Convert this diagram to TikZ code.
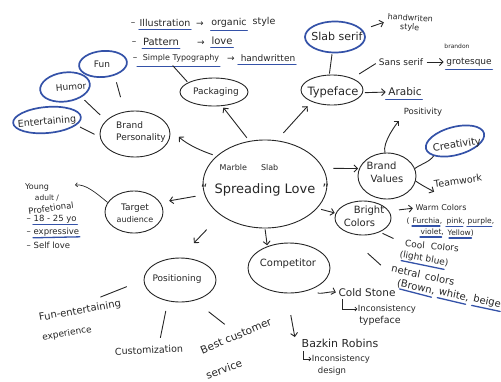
\documentclass[tikz,border=0pt]{standalone}
\usepackage{fontspec}
\setmainfont{DejaVu Sans}
\usetikzlibrary{shapes.geometric,arrows.meta}
\definecolor{ink}{RGB}{38,38,38}
\definecolor{inkblue}{RGB}{52,82,168}
\tikzset{
  fs/.style={font=\fontsize{#1}{#1}\selectfont},
  txt/.style={text=ink,inner sep=0.5pt,align=center},
  oval/.style={ellipse,draw=ink,line width=0.9pt,inner sep=0pt},
  boval/.style={ellipse,draw=inkblue,line width=1.7pt,inner sep=0pt},
  conn/.style={draw=ink,line width=0.9pt},
  arr/.style={conn,-{Straight Barb[length=3.5pt,width=7pt]}},
  arrS/.style={conn,line width=0.7pt,-{Straight Barb[length=2pt,width=4pt]}},
  ul/.style={draw=inkblue,line width=1.3pt,line cap=round},
}
\begin{document}
\begin{tikzpicture}[x=1pt,y=-1pt]
\useasboundingbox (0,0) rectangle (501,381);

% ---------- ovals ----------
\node[oval,minimum width=124pt,minimum height=88pt] (core) at (265,184) {};
\node[oval,minimum width=70pt,minimum height=46pt] (bp) at (135,134) {};
\node[boval,minimum width=48pt,minimum height=26pt,rotate=5] (fun) at (103,64) {};
\node[boval,minimum width=50pt,minimum height=29pt,rotate=8] (hum) at (65,87) {};
\node[boval,minimum width=68pt,minimum height=26pt,rotate=5] (ent) at (47,120) {};
\node[oval,minimum width=68pt,minimum height=28pt] (pack) at (214,92) {};
\node[oval,minimum width=62pt,minimum height=30pt] (typ) at (332,90) {};
\node[boval,minimum width=60pt,minimum height=31pt] (slab) at (335,37) {};
\node[oval,minimum width=58pt,minimum height=46pt] (bv) at (387,176) {};
\node[boval,minimum width=60pt,minimum height=28pt,rotate=15] (cre) at (455,141) {};
\node[oval,minimum width=56pt,minimum height=34pt] (bc) at (363,218) {};
\node[oval,minimum width=82pt,minimum height=50pt] (comp) at (289,268) {};
\node[oval,minimum width=72pt,minimum height=44pt] (posn) at (180,280) {};
\node[oval,minimum width=58pt,minimum height=42pt] (ta) at (134,212) {};

% ---------- labels inside ovals ----------
\node[txt,fs=8] (mslab) at (249,168) {Marble\hspace{14pt}Slab};
\node[txt,fs=13] (slogan) at (265,190) {“\hspace{7pt}Spreading Love\hspace{7pt}”};
\node[txt,fs=9,align=left] (bpL) at (141,132) {Brand\\[3pt]Personality};
\node[txt,fs=9] (funL) at (102,64) {Fun};
\node[txt,fs=9,rotate=5] (humL) at (71,87) {Humor};
\node[txt,fs=9.5,rotate=5] (entL) at (47,122) {Entertaining};
\node[txt,fs=9] (packL) at (216,92) {Packaging};
\node[txt,fs=11.5] (typL) at (333,92) {Typeface};
\node[txt,fs=11] (slabL) at (337,36) {Slab serif};
\node[txt,fs=10,align=left] (bvL) at (385,172) {Brand\\[3pt]\hspace{4pt}Values};
\node[txt,fs=10,rotate=8] (creL) at (457,145) {Creativity};
\node[txt,fs=10,align=left] (bcL) at (364,216) {\hspace{10pt}Bright\\[3pt]Colors};
\node[txt,fs=10] (compL) at (288,264) {Competitor};
\node[txt,fs=9] (posnL) at (177,279) {Positioning};
\node[txt,fs=9] (taL) at (135,213) {Target\\[3pt]{\fontsize{8}{8}\selectfont audience}};

% ---------- packaging list ----------
\node[txt,fs=9] (d1) at (133,24) {–};
\node[txt,fs=9.5] (ill) at (165,23) {Illustration};
\node[txt,fs=9] (a1) at (200,24) {→};
\node[txt,fs=9.5] (org) at (229,23) {organic};
\node[txt,fs=9.5] (sty) at (264,22) {style};
\node[txt,fs=9] (d2) at (134,43) {–};
\node[txt,fs=10] (pat) at (161,42) {Pattern};
\node[txt,fs=9] (a2) at (201,43) {→};
\node[txt,fs=10] (lov) at (222,41) {love};
\node[txt,fs=9] (d3) at (135,59) {–};
\node[txt,fs=8] (st) at (181,58) {Simple Typography};
\node[txt,fs=9] (a3) at (231,59) {→};
\node[txt,fs=9] (hwr) at (268,58) {handwritten};
\draw[ul] ([yshift=-2pt]ill.south west) -- ([yshift=-2pt]ill.south east);
\draw[ul] ([yshift=-2pt]org.south west) -- ([yshift=-2pt]org.south east);
\draw[ul] ([yshift=-2pt]pat.south west) -- ([yshift=-2pt]pat.south east);
\draw[ul] ([yshift=-2pt]lov.south west) -- ([yshift=-2pt]lov.south east);
\draw[ul] ([xshift=-5pt,yshift=-4pt]st.south west) -- ([yshift=-4pt]st.south east);
\draw[ul] ([xshift=-2pt,yshift=-2pt]hwr.south west) -- ([yshift=-2pt]hwr.south east);

% ---------- typeface branch ----------
\node[txt,fs=8,rotate=-4] (hw) at (410,23) {handwriten\\[1pt]style};
\node[txt,fs=9] (ss) at (401,62) {Sans serif};
\node[txt,fs=6] (bran) at (457,46) {brandon};
\node[txt,fs=9] (grot) at (469,62) {grotesque};
\node[txt,fs=10.5] (ar) at (405,92) {Arabic};
\draw[ul] ([yshift=-3pt]grot.south west) -- ([yshift=-3pt]grot.south east);
\draw[ul] ([xshift=-2pt,yshift=-3pt]ar.south west) -- ([yshift=-3pt]ar.south east);

% ---------- brand values ----------
\node[txt,fs=8.5] (pos) at (423,112) {Positivity};
\node[txt,fs=9.5,rotate=8] (tw) at (458,181) {Teamwork};

% ---------- bright colors ----------
\node[txt,fs=8] (wc) at (441,208) {Warm Colors};
\node[txt,fs=7.5,anchor=west] (par) at (406,221) {(};
\node[txt,fs=7.5,anchor=west] (fuc) at (412,221) {Furchia,};
\node[txt,fs=7.5,anchor=west] (pnk) at (446,221) {pink,};
\node[txt,fs=7.5,anchor=west] (pur) at (467,221) {purple,};
\node[txt,fs=7.5,anchor=west] (vio) at (420,232) {violet,};
\node[txt,fs=7.5,anchor=west] (yel) at (447,233) {Yellow)};
\draw[ul] ([yshift=-1pt]fuc.south west) -- ([xshift=-3pt,yshift=-1pt]fuc.south east);
\draw[ul] ([yshift=-1pt]pnk.south west) -- ([xshift=-3pt,yshift=-1pt]pnk.south east);
\draw[ul] ([yshift=-1pt]pur.south west) -- ([xshift=-3pt,yshift=-1pt]pur.south east);
\draw[ul] ([yshift=-1pt]vio.south west) -- ([xshift=-3pt,yshift=-1pt]vio.south east);
\draw[ul] ([xshift=2pt,yshift=-1pt]yel.south west) -- ([xshift=-3pt,yshift=-1pt]yel.south east);
\node[txt,fs=9,rotate=-5] (cool) at (432,246) {Cool\hspace{6pt}Colors};
\node[txt,fs=9,rotate=-10] (lb) at (424,259) {(light blue)};
\draw[ul] ([xshift=3pt,yshift=-1pt]lb.south west) -- ([xshift=-4pt,yshift=-1pt]lb.south east);
\node[txt,fs=10,rotate=-12] (net) at (423,275) {netral\hspace{5pt}colors};
\node[txt,fs=10,rotate=-12] (brw) at (416,287) {(Brown,};
\node[txt,fs=10,rotate=-12] (wht) at (454,295) {white,};
\node[txt,fs=10,rotate=-12] (bge) at (487,302) {beige};
\draw[ul] ([xshift=4pt,yshift=-1pt]brw.south west) -- ([xshift=-3pt,yshift=-1pt]brw.south east);
\draw[ul] ([yshift=-1pt]wht.south west) -- ([xshift=-3pt,yshift=-1pt]wht.south east);
\draw[ul] ([yshift=-1pt]bge.south west) -- ([yshift=-1pt]bge.south east);

% ---------- competitor ----------
\node[txt,fs=10.5] (cs) at (367,293) {Cold Stone};
\node[txt,fs=8.5] (inc1) at (387,309) {Inconsistency};
\node[txt,fs=9.5] (tf) at (380,321) {typeface};
\node[txt,fs=11] (bk) at (340,343) {Bazkin Robins};
\node[txt,fs=8.5] (inc2) at (341,359) {Inconsistency};
\node[txt,fs=8.5] (dsg) at (332,371) {design};

% ---------- positioning ----------
\node[txt,fs=10,rotate=10] (fe1) at (80,311) {Fun-entertaining};
\node[txt,fs=9,rotate=10] (fe2) at (67,334) {experience};
\node[txt,fs=9.5,rotate=3] (cust) at (149,350) {Customization};
\node[txt,fs=10.5,rotate=23] (best) at (236,336) {Best customer};
\node[txt,fs=10.5,rotate=20] (serv) at (224,369) {service};

% ---------- target audience ----------
\node[txt,fs=8] (yg) at (37,187) {Young};
\node[txt,fs=7.5] (adl) at (47,198) {adult /};
\node[txt,fs=8.5,rotate=8] (prof) at (51,208) {Profetional};
\node[txt,fs=8.5,anchor=west] (ag) at (26,219) {– 18 - 25 yo};
\node[txt,fs=8.5,anchor=west] (exp) at (26,232) {– expressive};
\node[txt,fs=8.5,anchor=west] (sl) at (26,245) {– Self love};
\draw[ul] ([xshift=7pt,yshift=-1pt]ag.south west) -- ([yshift=-1pt]ag.south east);
\draw[ul] ([xshift=7pt,yshift=-1pt]exp.south west) -- ([yshift=0pt]exp.south east);
\coordinate (yaEnd) at (75,185);

% ---------- connectors from core ----------
\draw[arr,shorten <=4pt,shorten >=2pt] (core.110) -- (pack.-60);
\draw[arr,shorten <=4pt,shorten >=13pt] (core.150) to[bend left=12] (bp.10);
\draw[arr,shorten <=9pt,shorten >=9pt] (core.190) -- (ta.20);
\draw[arr,shorten <=20pt,shorten >=20pt] (core.215) -- (posn.north);
\draw[arr,shorten <=1pt,shorten >=1pt] (core.-90) -- (comp.135);
\draw[arr,shorten <=4pt,shorten >=1pt] (core.-25) -- (bc.170);
\draw[arr,shorten <=10pt,shorten >=1pt] (core.15) -- (bv.165);
\draw[arr,shorten <=10pt,shorten >=6pt] (core.75) -- (typ.210);

% ---------- brand personality ----------
\draw[conn,shorten <=7pt,shorten >=15pt] (fun.-50) -- (bp.115);
\draw[conn,shorten <=4pt,shorten >=8pt] (hum.-40) -- (bp.155);
\draw[conn,shorten <=4pt,shorten >=6pt] (ent.-15) -- (bp.185);

% ---------- packaging ----------
\draw[conn,shorten <=4pt,shorten >=1pt] ([xshift=-11pt]st.south) -- (pack.160);

% ---------- typeface ----------
\draw[conn,shorten <=1pt,shorten >=1pt] (slab.-100) -- (typ.100);
\draw[arr,shorten <=9pt,shorten >=3pt] (slab.15) -- (hw.west);
\draw[conn,shorten <=8pt,shorten >=3pt] (typ.30) -- (ss.west);
\draw[arr,shorten <=3pt,shorten >=2pt] (ss.east) -- (grot.west);
\draw[arr,shorten <=2pt,shorten >=2pt] (typ.-5) -- (ar.west);

% ---------- brand values ----------
\draw[arr,shorten >=6pt] (bv.95) .. controls +(-3,-10) and +(-6,6) .. (pos.south west);
\draw[conn] (bv.15) .. controls +(5,-4) and +(-4,6) .. (cre.200);
\draw[arr] (bv.-10) .. controls +(6,4) .. ([yshift=-3pt]tw.south west);

% ---------- bright colors ----------
\draw[arr,shorten <=10pt,shorten >=2pt] (bc.15) -- (wc.west);
\draw[conn,shorten <=3pt,shorten >=12pt] (bc.-40) -- (cool.west);
\draw[conn] ([yshift=-18pt]bc.-75) -- ([xshift=-10pt,yshift=3pt]net.west);

% ---------- competitor ----------
\draw[arr,shorten <=6pt,shorten >=2pt] (comp.-40) .. controls +(6,6) and +(-6,-2) .. (cs.west);
\draw[arrS] ([xshift=5pt,yshift=-1pt]cs.south west) |- (inc1.west);
\draw[arr,shorten <=22pt,shorten >=1pt] (comp.-95) -- ([xshift=-6pt]bk.north west);
\draw[arrS] ([xshift=2pt,yshift=-3pt]bk.south west) |- (inc2.west);

% ---------- positioning ----------
\draw[conn,shorten <=18pt,shorten >=23pt] (posn.west) -- (fe1.north);
\draw[conn,shorten <=10pt,shorten >=8pt] (posn.-120) -- ([xshift=10pt]cust.north);
\draw[conn,shorten <=18pt,shorten >=12pt] (posn.-55) -- (best.north);

% ---------- target audience ----------
\draw[arrS] (ta.160) .. controls (96,193) and (86,184) .. (yaEnd);

\end{tikzpicture}
\end{document}
